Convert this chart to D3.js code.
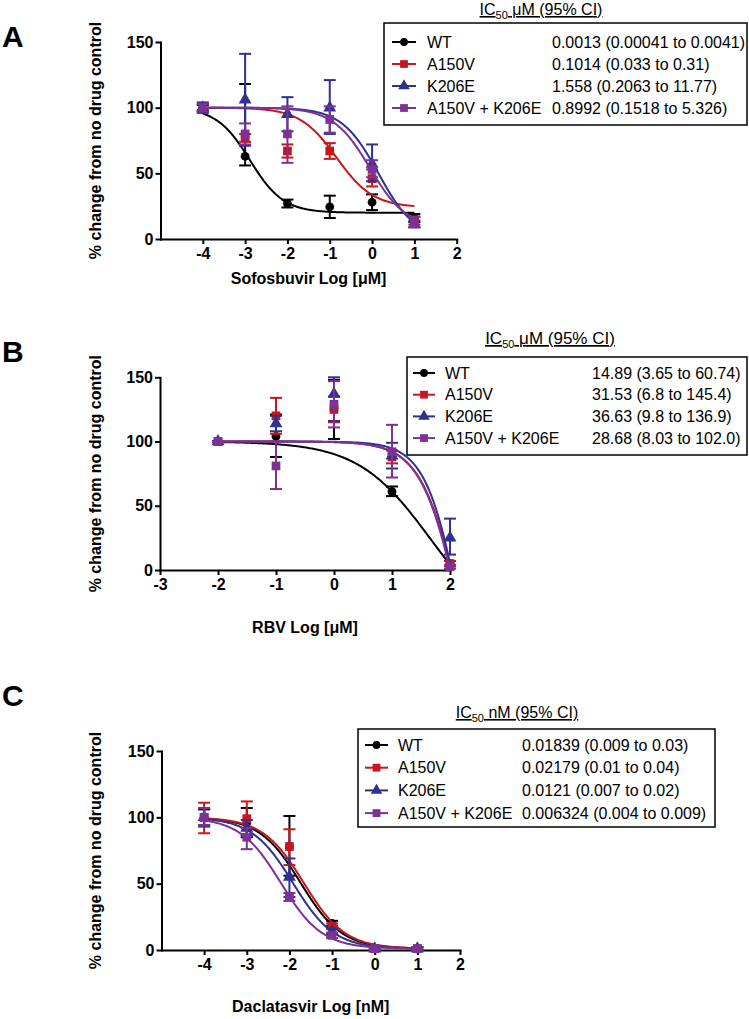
<!DOCTYPE html>
<html>
<head>
<meta charset="utf-8">
<script src="https://d3js.org/d3.v7.min.js"></script>
<style>
	body { margin: 0; background: #fff; }
	svg { font-family: "Liberation Sans", Arial, sans-serif; }
	.axis path, .axis line { stroke: #000; stroke-width: 2px; }
	.axis text { font-size: 16px; font-weight: bold; fill: #000; font-family: "Liberation Sans", Arial, sans-serif; }
</style>
</head>
<body>
<svg id="fig" width="749" height="1019"></svg>
<script>
// series shared by all three panels
const seriesNames = ["WT", "A150V", "K206E", "A150V + K206E"];
const seriesColors = ["#000000", "#c8161e", "#2e3192", "#7b3294"];
const seriesSymbols = ["circle", "square", "triangle", "square"];
const yTicks = [0, 50, 100, 150];
const fitTop = 100;

// A - sofosbuvir, log [uM]
const doseA = [-4, -3, -2, -1, 0, 1];
const xTicksA = [-4, -3, -2, -1, 0, 1, 2];
const wtA = [100, 63, 27, 24.5, 28, 16];
const wtAerr = [[98, 102], [56, 118], [24, 30], [16, 33], [22, 34], [13, 19]];
const a150vA = [100, 77, 67, 67, 46, 14];
const a150vAerr = [[97, 103], [74, 80], [62, 72], [61, 73], [40, 53], [11, 17]];
const k206eA = [100, 106, 95, 100, 57, 11];
const k206eAerr = [[96, 104], [71, 141], [82, 108], [80, 121], [44, 72], [9, 14]];
const dblA = [100, 80, 80, 91, 53, 12];
const dblAerr = [[97, 103], [72, 88], [58, 101], [81, 101], [47, 60], [9, 17]];
const fitBottomA = [20, 24, 0, 8];
const fitLogIC50A = [-2.886, -0.84, 0.15, -0.05];
const fitHillA = [1.1, 1, 1, 1];
const ic50A = ["0.0013 (0.00041 to 0.0041)", "0.1014 (0.033 to 0.31)", "1.558 (0.2063 to 11.77)", "0.8992 (0.1518 to 5.326)"];

// B - ribavirin, log [uM]
const doseB = [-2, -1, 0, 1, 2];
const xTicksB = [-3, -2, -1, 0, 1, 2];
const wtB = [100, 104, 125, 61, 5];
const wtBerr = [[100, 100], [88, 121], [102, 148], [57.5, 65], [3, 7]];
const a150vB = [100, 120, 125, 88, 5];
const a150vBerr = [[100, 100], [106, 134], [115, 135], [83, 93], [3, 7]];
const k206eB = [100, 114, 137, 89, 25];
const k206eBerr = [[100, 100], [108, 120], [116, 150], [79, 99], [12, 40]];
const dblB = [100, 81, 129, 92, 2.5];
const dblBerr = [[100, 100], [63, 100], [111, 147], [72, 113], [1, 4]];
const fitBottomB = [-50, -200, -200, -200];
const fitLogIC50B = [1.65, 2.26, 2.24, 2.24];
const fitHillB = [0.7, 1.24, 1.4, 1.26];
const ic50B = ["14.89 (3.65 to 60.74)", "31.53 (6.8 to 145.4)", "36.63 (9.8 to 136.9)", "28.68 (8.03 to 102.0)"];

// C - daclatasvir, log [nM]
const doseC = [-4, -3, -2, -1, 0, 1];
const xTicksC = [-4, -3, -2, -1, 0, 1, 2];
const wtC = [100, 96, 78, 20, 1, 1];
const wtCerr = [[94, 106], [85, 107], [56, 101], [18, 22], [0, 2], [0, 2]];
const a150vC = [100, 99, 78, 18, 1, 1];
const a150vCerr = [[88, 111], [87, 112], [64, 91], [16, 20], [0, 2], [0, 2]];
const k206eC = [100, 92, 55, 14, 1, 1];
const k206eCerr = [[93, 107], [86, 98], [40, 69], [12, 16], [0, 2], [0, 2]];
const dblC = [100, 85, 40, 11, 1, 1];
const dblCerr = [[94, 107], [76, 92], [37, 43], [9, 13], [0, 2], [0, 2]];
const fitBottomC = [1, 1, 1, 1];
const fitLogIC50C = [-1.735, -1.662, -1.917, -2.199];
const fitHillC = [0.9, 0.9, 0.9, 0.9];
const ic50C = ["0.01839 (0.009 to 0.03)", "0.02179 (0.01 to 0.04)", "0.0121 (0.007 to 0.02)", "0.006324 (0.004 to 0.009)"];

const fig = d3.select("#fig");

class DoseResponse {
	constructor(_config, _data) {
		this.config = _config;
		this.data = _data;
		this.initVis();
	}

	initVis() {
		let vis = this;
		let c = vis.config;

		vis.g = fig.append("g");

		vis.x = d3.scaleLinear().domain(c.xDomain).range([c.x0, c.x1]);
		vis.y = d3.scaleLinear().domain([0, 150]).range([c.y0, c.y1]);

		// axes
		vis.g.append("g")
			.attr("class", "axis")
			.attr("transform", `translate(0,${c.y0})`)
			.call(d3.axisBottom(vis.x).tickValues(c.xTicks).tickSize(5).tickSizeOuter(0).tickPadding(4).tickFormat(d => String(d)));

		vis.g.append("g")
			.attr("class", "axis")
			.attr("transform", `translate(${c.x0},0)`)
			.call(d3.axisLeft(vis.y).tickValues(yTicks).tickSize(5).tickSizeOuter(0).tickPadding(2));

		vis.g.selectAll(".axis path").attr("stroke-linecap", "square");

		// labels
		vis.g.append("text")
			.attr("x", (c.x0 + c.x1) / 2)
			.attr("y", c.xLabelY)
			.attr("text-anchor", "middle")
			.style("font-size", "16px")
			.style("font-weight", "bold")
			.text(c.xLabel);

		vis.g.append("text")
			.attr("transform", "rotate(-90)")
			.attr("x", -(c.y0 + c.y1) / 2)
			.attr("y", 101)
			.attr("text-anchor", "middle")
			.style("font-size", "16px")
			.style("font-weight", "bold")
			.text("% change from no drug control");

		vis.g.append("text")
			.attr("x", 2)
			.attr("y", c.letterY)
			.style("font-size", "30px")
			.style("font-weight", "bold")
			.text(c.letter);

		vis.renderVis();
		vis.renderLegend();
	}

	symbolPath(type, scale) {
		let t = type === "circle" ? d3.symbolCircle : type === "triangle" ? d3.symbolTriangle : d3.symbolSquare;
		let area = type === "circle" ? 60 : type === "triangle" ? 72 : 76;
		return d3.symbol(t, area * scale)();
	}

	renderVis() {
		let vis = this;
		let c = vis.config;

		let line = d3.line().x(d => vis.x(d[0])).y(d => vis.y(d[1]));
		let xs = d3.range(c.fitFrom, c.fitTo + 0.0001, 0.02);

		vis.data.forEach((s, i) => {
			let col = seriesColors[i];
			let sg = vis.g.append("g");

			// 4PL fit curve
			let fit = x => s.bottom + (fitTop - s.bottom) / (1 + Math.pow(10, (x - s.logIC50) * s.hill));
			sg.append("path")
				.attr("d", line(xs.map(x => [x, fit(x)])))
				.attr("fill", "none")
				.attr("stroke", col)
				.attr("stroke-width", 2);

			// error bars
			s.err.forEach((e, j) => {
				let px = vis.x(s.dose[j]);
				sg.append("line")
					.attr("x1", px).attr("x2", px)
					.attr("y1", vis.y(e[0])).attr("y2", vis.y(e[1]))
					.attr("stroke", col).attr("stroke-width", 2);
				e.forEach(v => {
					sg.append("line")
						.attr("x1", px - 6).attr("x2", px + 6)
						.attr("y1", vis.y(v)).attr("y2", vis.y(v))
						.attr("stroke", col).attr("stroke-width", 2);
				});
			});

			sg.selectAll(".pt")
				.data(s.mean)
				.enter()
				.append("path")
				.attr("transform", (d, j) => `translate(${vis.x(s.dose[j])},${vis.y(d)})`)
				.attr("d", vis.symbolPath(seriesSymbols[i], 1))
				.attr("fill", col);
		});
	}

	renderLegend() {
		let vis = this;
		let c = vis.config;
		let lg = vis.g.append("g");

		let title = lg.append("text")
			.attr("x", c.titleX)
			.attr("y", c.titleY)
			.attr("text-anchor", "middle")
			.style("font-size", c.titleSize + "px");
		title.append("tspan").style("text-decoration", "underline").text("IC");
		title.append("tspan").attr("dy", 4).style("font-size", "11px").text("50");
		title.append("tspan").attr("dy", -4).style("text-decoration", "underline").text(" " + c.unit + " (95% CI)");

		lg.append("rect")
			.attr("x", c.box[0])
			.attr("y", c.box[1])
			.attr("width", c.box[2] - c.box[0])
			.attr("height", c.box[3] - c.box[1])
			.attr("fill", "#fff")
			.attr("stroke", "#000")
			.attr("stroke-width", 1.5);

		seriesNames.forEach((name, i) => {
			let cy = c.rowY0 + i * c.rowStep;
			lg.append("line")
				.attr("x1", c.symX0).attr("x2", c.symX1)
				.attr("y1", cy).attr("y2", cy)
				.attr("stroke", seriesColors[i]).attr("stroke-width", 2);
			lg.append("path")
				.attr("transform", `translate(${(c.symX0 + c.symX1) / 2},${cy})`)
				.attr("d", vis.symbolPath(seriesSymbols[i], 0.8))
				.attr("fill", seriesColors[i]);
			lg.append("text")
				.attr("x", c.nameX).attr("y", cy + 5.5)
				.style("font-size", "16px")
				.text(name);
			lg.append("text")
				.attr("x", c.valX).attr("y", cy + 5.5)
				.style("font-size", "16px")
				.text(c.ic50[i]);
		});
	}
}

function pack(dose, means, errs, bottoms, logs, hills) {
	return means.map((m, i) => ({
		dose: dose, mean: m, err: errs[i],
		bottom: bottoms[i], logIC50: logs[i], hill: hills[i]
	}));
}

new DoseResponse({
	x0: 160.5, x1: 456.7, xDomain: [-5, 2], y0: 239, y1: 42,
	xTicks: xTicksA, xLabel: "Sofosbuvir Log [μM]", xLabelY: 284,
	letter: "A", letterY: 47, fitFrom: -4, fitTo: 1,
	box: [384, 23, 747, 125], titleX: 541, titleY: 15, titleSize: 16, unit: "μM",
	rowY0: 42, rowStep: 22, symX0: 392, symX1: 416, nameX: 427, valX: 552, ic50: ic50A
}, pack(doseA, [wtA, a150vA, k206eA, dblA], [wtAerr, a150vAerr, k206eAerr, dblAerr], fitBottomA, fitLogIC50A, fitHillA));

new DoseResponse({
	x0: 160, x1: 450, xDomain: [-3, 2], y0: 570, y1: 377.3,
	xTicks: xTicksB, xLabel: "RBV Log [μM]", xLabelY: 633,
	letter: "B", letterY: 362, fitFrom: -2, fitTo: 2,
	box: [407, 357, 747, 455], titleX: 550, titleY: 344, titleSize: 17, unit: "μM",
	rowY0: 373, rowStep: 21.7, symX0: 413, symX1: 435, nameX: 445, valX: 592, ic50: ic50B
}, pack(doseB, [wtB, a150vB, k206eB, dblB], [wtBerr, a150vBerr, k206eBerr, dblBerr], fitBottomB, fitLogIC50B, fitHillB));

new DoseResponse({
	x0: 161.5, x1: 460, xDomain: [-5, 2], y0: 950, y1: 751,
	xTicks: xTicksC, xLabel: "Daclatasvir Log [nM]", xLabelY: 1012,
	letter: "C", letterY: 706, fitFrom: -4, fitTo: 1,
	box: [358, 729, 715, 827], titleX: 517, titleY: 718, titleSize: 16, unit: "nM",
	rowY0: 745, rowStep: 22.7, symX0: 365, symX1: 388, nameX: 398, valX: 522, ic50: ic50C
}, pack(doseC, [wtC, a150vC, k206eC, dblC], [wtCerr, a150vCerr, k206eCerr, dblCerr], fitBottomC, fitLogIC50C, fitHillC));
</script>
</body>
</html>
